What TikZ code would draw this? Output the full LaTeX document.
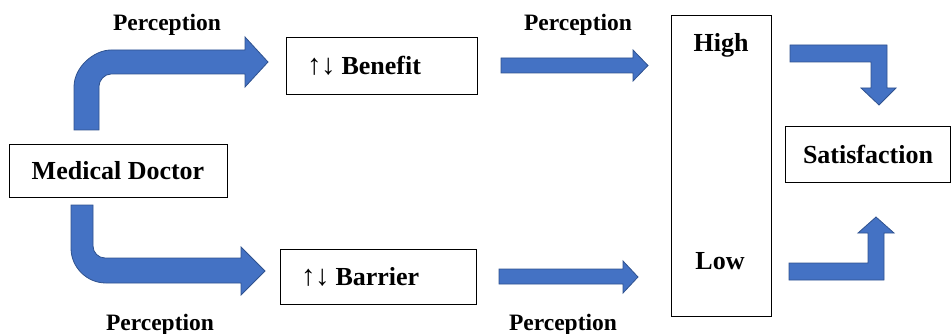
\documentclass[tikz,border=0pt]{standalone}
\usepackage{fontspec}
\setmainfont{Liberation Serif}
\definecolor{arrfill}{HTML}{4472C4}
\definecolor{arredge}{HTML}{2F528F}
\newcommand{\updn}{{\fontsize{29}{30}\selectfont\mdseries ↑\kern-0.5pt↓}\hspace{6pt}}
\begin{document}
\begin{tikzpicture}[x=1pt,y=-1pt,
  box/.style={draw=black, line width=0.9pt, inner sep=0pt, font=\fontsize{26}{30}\selectfont\bfseries},
  bigtxt/.style={inner sep=0pt, font=\fontsize{26}{30}\selectfont\bfseries},
  lbl/.style={inner sep=0pt, anchor=base, font=\fontsize{23.5}{28}\selectfont\bfseries},
  blockarrow/.style={fill=arrfill, draw=arredge, line width=0.8pt, line join=miter}]
\useasboundingbox (0,0) rectangle (951,334);
% boxes
\node[box, minimum width=218, minimum height=53] (md) at (118,170.5) {Medical Doctor};
\node[box, minimum width=191, minimum height=57, text width=149, align=left] (ben) at (381.5,65.5) {\updn Benefit};
\node[box, minimum width=196, minimum height=55, text width=154, align=left] (bar) at (378,276.5) {\updn Barrier};
\node[box, minimum width=100, minimum height=301] (hl) at (721,165.5) {};
\node[bigtxt, anchor=base] (high) at (721,52) {High};
\node[bigtxt, anchor=base] (low) at (720,269) {Low};
\node[box, minimum width=165, minimum height=56] (sat) at (868,154) {Satisfaction};
% labels
\node[lbl] (p1) at (167,31) {Perception};
\node[lbl] (p2) at (160,330) {Perception};
\node[lbl] (p3) at (578,31) {Perception};
\node[lbl] (p4) at (563,330) {Perception};
% bent arrows from Medical Doctor
\draw[blockarrow] (74,130) -- (74,87) .. controls (74,66.6) and (94.4,50) .. (111,50)
  -- (245,50) -- (245,37) -- (268,62) -- (245,87) -- (245,74) -- (111,74)
  .. controls (104.4,74) and (99,80.6) .. (99,86) -- (99,130) -- cycle;
\draw[blockarrow] (71,205) -- (71,248) .. controls (71,267.3) and (86.7,283) .. (106,283)
  -- (241,283) -- (241,295) -- (265,271) -- (241,247) -- (241,258) -- (105,258)
  .. controls (98.4,258) and (93,252.6) .. (93,246) -- (93,205) -- cycle;
% straight arrows
\draw[blockarrow] (501,58) -- (633,58) -- (633,50) -- (648,65.5) -- (633,81) -- (633,73) -- (501,73) -- cycle;
\draw[blockarrow] (499,269) -- (623,269) -- (623,261) -- (638,277) -- (623,293) -- (623,284) -- (499,284) -- cycle;
% arrows to Satisfaction
\draw[blockarrow] (790,45) -- (887,45) -- (887,88) -- (896,88) -- (879,105) -- (861,88) -- (871,88) -- (871,62) -- (790,62) -- cycle;
\draw[blockarrow] (789,280) -- (884,280) -- (884,233) -- (894,233) -- (876,217) -- (858,233) -- (868,233) -- (868,263) -- (789,263) -- cycle;
\end{tikzpicture}
\end{document}
